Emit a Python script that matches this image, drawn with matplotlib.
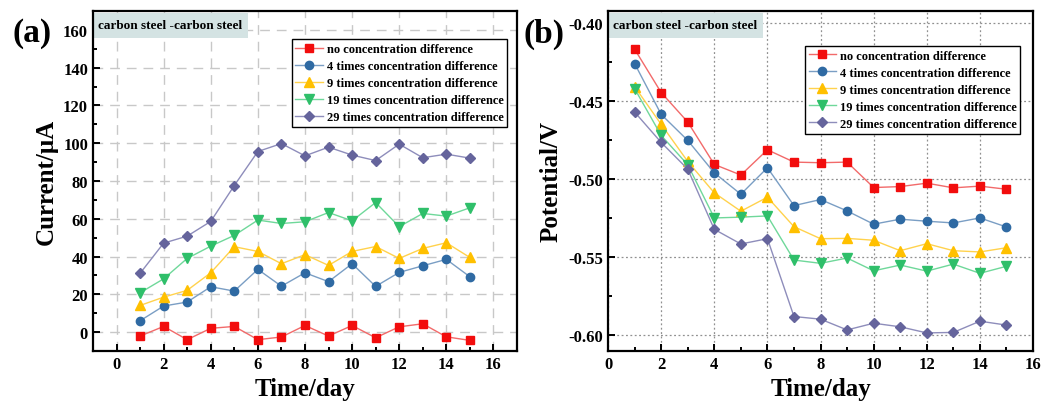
import numpy as np
from matplotlib import pyplot as plt
from matplotlib.ticker import MultipleLocator, FormatStrFormatter

plt.rcParams['font.family'] = ['Liberation Serif', 'DejaVu Serif']
plt.rcParams['font.weight'] = 'bold'

days = list(range(1, 16))
labels = ["no concentration difference",
          "4 times concentration difference",
          "9 times concentration difference",
          "19 times concentration difference",
          "29 times concentration difference"]

# current (uA)
cur_0 = [-2.1, 3.0, -4.0, 2.0, 3.0, -4.0, -2.6, 3.5, -2.1, 3.5, -3.0, 2.8, 4.4, -2.5, -4.4]
cur_4 = [6.0, 13.8, 15.9, 24.0, 21.7, 33.2, 24.3, 31.4, 26.7, 36.2, 24.2, 31.6, 35.1, 38.5, 29.3]
cur_9 = [14.1, 18.5, 22.1, 31.4, 45.2, 42.7, 36.2, 41.0, 35.3, 42.7, 45.3, 39.0, 44.3, 47.3, 39.5]
cur_19 = [20.8, 28.2, 39.0, 45.5, 51.2, 59.3, 57.5, 58.4, 63.3, 58.9, 68.6, 55.8, 62.8, 61.4, 65.8]
cur_29 = [31.1, 47.1, 50.8, 58.6, 77.6, 95.6, 99.8, 93.3, 97.9, 93.7, 90.8, 99.5, 92.3, 94.2, 92.1]

# potential (V)
pot_0 = [-0.4165, -0.4443, -0.4632, -0.4904, -0.4972, -0.4810, -0.4889, -0.4893, -0.4889,
         -0.5052, -0.5046, -0.5024, -0.5054, -0.5043, -0.5063]
pot_4 = [-0.4257, -0.4583, -0.4750, -0.4958, -0.5095, -0.4925, -0.5168, -0.5129, -0.5202,
         -0.5287, -0.5255, -0.5268, -0.5279, -0.5247, -0.5305]
pot_9 = [-0.4405, -0.4647, -0.4885, -0.5086, -0.5204, -0.5114, -0.5303, -0.5380, -0.5378,
         -0.5390, -0.5457, -0.5412, -0.5457, -0.5465, -0.5438]
pot_19 = [-0.4418, -0.4718, -0.4906, -0.5247, -0.5242, -0.5234, -0.5517, -0.5538, -0.5504,
          -0.5586, -0.5549, -0.5588, -0.5543, -0.5602, -0.5557]
pot_29 = [-0.4568, -0.4763, -0.4934, -0.5320, -0.5414, -0.5380, -0.5879, -0.5896, -0.5965,
          -0.5922, -0.5945, -0.5984, -0.5981, -0.5909, -0.5934]

mk_colors = ['#f20d0d', '#2f6aa3', '#ffc000', '#2fbf6a', '#65649c']
ln_colors = ['#f26a6a', '#7a9ec4', '#ffd24d', '#6fd89a', '#8e8dbb']
markers = ['s', 'o', '^', 'v', 'D']
msizes = [5.5, 6, 7, 7, 5.5]

fig = plt.figure(figsize=(10.54, 4.14), dpi=100)
ax1 = fig.add_axes([0.0882, 0.1498, 0.4023, 0.8213])
ax2 = fig.add_axes([0.5769, 0.1498, 0.4032, 0.8213])


def draw(ax, series):
    for i, ys in enumerate(series):
        ax.plot(days, ys, color=ln_colors[i], lw=1.0, marker=markers[i],
                markersize=msizes[i], markerfacecolor=mk_colors[i],
                markeredgecolor=mk_colors[i], label=labels[i], zorder=3)
    for s in ax.spines.values():
        s.set_linewidth(1.6)
        s.set_zorder(5)
    ax.tick_params(which='both', direction='in', labelsize=12, width=1.4)
    ax.tick_params(which='major', length=5)
    ax.tick_params(which='minor', length=3)
    ax.xaxis.set_major_locator(MultipleLocator(2))
    ax.xaxis.set_minor_locator(MultipleLocator(1))
    ax.set_xlabel("Time/day", fontsize=18, fontweight='bold')
    ax.text(0.012, 0.975, "carbon steel -carbon steel", transform=ax.transAxes,
            fontsize=9.5, fontweight='bold', va='top', ha='left',
            bbox=dict(facecolor='#d4e3e3', edgecolor='none', pad=4.5))


def make_legend(ax, anchor):
    leg = ax.legend(loc='upper right', bbox_to_anchor=anchor, fontsize=9,
                    fancybox=False, edgecolor='black', framealpha=1,
                    handlelength=2.2, borderpad=0.3, labelspacing=0.4,
                    handletextpad=0.3)
    leg.get_frame().set_linewidth(1.0)
    for t in leg.get_texts():
        t.set_fontweight('bold')


draw(ax1, [cur_0, cur_4, cur_9, cur_19, cur_29])
ax1.set_xlim(-1, 17)
ax1.set_ylim(-10, 170)
ax1.yaxis.set_major_locator(MultipleLocator(20))
ax1.yaxis.set_minor_locator(MultipleLocator(10))
ax1.grid(True, which='major', color='#c8c8c8', lw=1.0, linestyle=(0, (7, 5)))
ax1.set_ylabel("Current/\u03bcA", fontsize=18, fontweight='bold')
make_legend(ax1, (0.992, 0.935))

draw(ax2, [pot_0, pot_4, pot_9, pot_19, pot_29])
ax2.set_xlim(0, 16)
ax2.set_ylim(-0.61, -0.392)
ax2.yaxis.set_major_locator(MultipleLocator(0.05))
ax2.yaxis.set_minor_locator(MultipleLocator(0.025))
ax2.yaxis.set_major_formatter(FormatStrFormatter('%.2f'))
ax2.grid(True, which='major', color='#909090', lw=0.9, linestyle=(0, (1.5, 2)))
ax2.set_ylabel("Potential/V", fontsize=18, fontweight='bold')
make_legend(ax2, (0.985, 0.915))

for ax in (ax1, ax2):
    for lb in ax.get_xticklabels() + ax.get_yticklabels():
        lb.set_fontweight('bold')

fig.text(0.012, 0.918, "(a)", fontsize=24, fontweight='bold', ha='left', va='center')
fig.text(0.497, 0.918, "(b)", fontsize=24, fontweight='bold', ha='left', va='center')

fig.savefig("out.png", dpi=100)
